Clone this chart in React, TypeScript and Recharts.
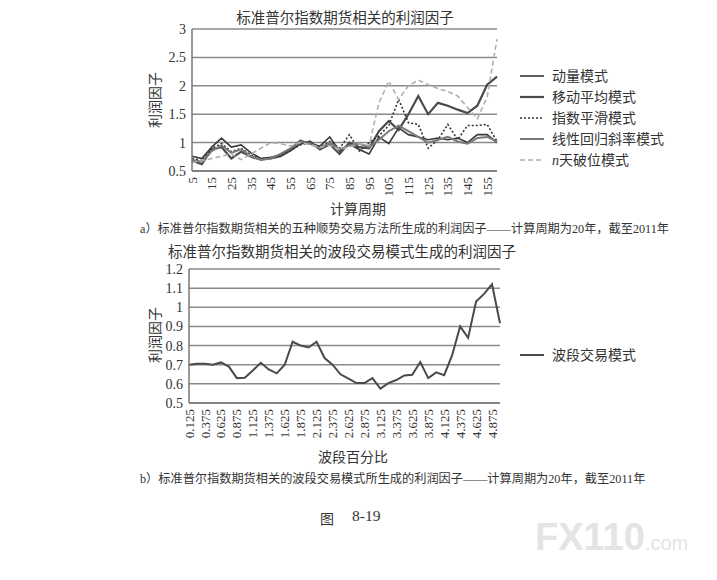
import React from 'react';
import { LineChart, Line, XAxis, YAxis, CartesianGrid } from 'recharts';

const FONT = "'Liberation Serif', 'Noto Sans CJK SC', serif";

// 上图：计算周期
const periods = [5, 10, 15, 20, 25, 30, 35, 40, 45, 50, 55, 60, 65, 70, 75, 80,
  85, 90, 95, 100, 105, 110, 115, 120, 125, 130, 135, 140, 145, 150, 155, 160];

const momentum = [0.76, 0.72, 0.92, 1.08, 0.92, 0.96, 0.82, 0.72, 0.74, 0.78, 0.88, 1.04, 0.98, 0.94, 1.1, 0.85,
  0.97, 0.88, 0.8, 1.1, 0.98, 1.26, 1.14, 1.1, 1.05, 1.08, 1.05, 1.08, 1.0, 1.14, 1.14, 1.0];
const movingAvg = [0.68, 0.62, 0.88, 0.92, 0.72, 0.84, 0.75, 0.7, 0.72, 0.76, 0.86, 0.98, 1.02, 0.88, 0.97, 0.8,
  1.0, 0.92, 0.9, 1.2, 1.38, 1.22, 1.5, 1.82, 1.5, 1.7, 1.65, 1.58, 1.52, 1.65, 2.02, 2.16];
const expSmooth = [0.72, 0.68, 0.9, 0.98, 0.84, 0.9, 0.78, 0.72, 0.73, 0.78, 0.86, 0.96, 1.0, 0.92, 1.02, 0.9,
  1.14, 0.85, 1.0, 1.12, 1.3, 1.76, 1.35, 1.32, 0.9, 1.05, 1.32, 1.05, 1.3, 1.3, 1.32, 1.02];
const linReg = [0.7, 0.66, 0.85, 0.95, 0.82, 0.88, 0.76, 0.7, 0.72, 0.8, 0.9, 1.02, 0.98, 0.9, 1.0, 0.88,
  0.95, 0.98, 0.92, 1.05, 1.2, 1.3, 1.2, 1.1, 1.0, 1.05, 1.1, 1.02, 0.98, 1.08, 1.1, 1.02];
const nDay = [0.65, 0.68, 0.72, 0.76, 0.8, 0.7, 0.8, 0.9, 1.0, 0.98, 0.94, 1.0, 0.96, 0.92, 0.95, 0.88,
  0.92, 0.98, 0.95, 1.7, 2.08, 1.76, 2.0, 2.1, 2.02, 1.95, 1.9, 1.82, 1.62, 1.42, 1.8, 2.82];

const topTicks = [0.5, 1, 1.5, 2, 2.5, 3];

// 下图：波段百分比
const swingPct = ['0.125', '0.25', '0.375', '0.5', '0.625', '0.75', '0.875', '1', '1.125', '1.25',
  '1.375', '1.5', '1.625', '1.75', '1.875', '2', '2.125', '2.25', '2.375', '2.5',
  '2.625', '2.75', '2.875', '3', '3.125', '3.25', '3.375', '3.5', '3.625', '3.75',
  '3.875', '4', '4.125', '4.25', '4.375', '4.5', '4.625', '4.75', '4.875', '5'];
const swing = [0.7, 0.705, 0.705, 0.7, 0.712, 0.69, 0.63, 0.632, 0.67, 0.71,
  0.675, 0.655, 0.7, 0.82, 0.8, 0.79, 0.82, 0.735, 0.7, 0.65,
  0.627, 0.604, 0.604, 0.63, 0.575, 0.604, 0.62, 0.644, 0.647, 0.714,
  0.63, 0.66, 0.645, 0.75, 0.9, 0.84, 1.03, 1.07, 1.12, 0.917];

const bottomTicks = [0.5, 0.6, 0.7, 0.8, 0.9, 1, 1.1, 1.2];

const topData = periods.map((p, i) => ({
  period: p,
  momentum: momentum[i],
  movingAvg: movingAvg[i],
  expSmooth: expSmooth[i],
  linReg: linReg[i],
  nDay: nDay[i],
}));

const bottomData = swingPct.map((p, i) => ({ pct: p, swing: swing[i] }));

const topSeries = [
  { key: 'momentum', name: '动量模式', color: '#3a3a3a', width: 1.6, dash: undefined },
  { key: 'movingAvg', name: '移动平均模式', color: '#4a4a4a', width: 2.2, dash: undefined },
  { key: 'expSmooth', name: '指数平滑模式', color: '#333', width: 1.6, dash: '2 2' },
  { key: 'linReg', name: '线性回归斜率模式', color: '#7a7a7a', width: 2, dash: undefined },
  { key: 'nDay', name: 'n天破位模式', color: '#b0b0b0', width: 1.6, dash: '5 3' },
];

const RotTick = ({ x, y, payload }: any) => (
  <g transform={`translate(${x},${y})`}>
    <text transform="rotate(-90)" textAnchor="end" x={-2} dy="0.35em"
      fontSize={13} fill="#333" fontFamily={FONT}>
      {payload.value}
    </text>
  </g>
);

const TopLegend = () => (
  <svg width={170} height={105}>
    {topSeries.map((s, i) => (
      <g key={s.key} transform={`translate(0, ${8 + i * 21})`}>
        <line x1={0} x2={24} y1={0} y2={0} stroke={s.color} strokeWidth={s.width}
          strokeDasharray={s.dash} />
        <text x={32} y={0} dy="0.35em" fontSize={14} fill="#333" fontFamily={FONT}>
          {s.key === 'nDay' ? (<><tspan fontStyle="italic">n</tspan>天破位模式</>) : s.name}
        </text>
      </g>
    ))}
  </svg>
);

const BottomLegend = () => (
  <svg width={140} height={20}>
    <line x1={0} x2={24} y1={10} y2={10} stroke="#4a4a4a" strokeWidth={2} />
    <text x={32} y={10} dy="0.35em" fontSize={14} fill="#333" fontFamily={FONT}>波段交易模式</text>
  </svg>
);

const txt = (s: React.CSSProperties): React.CSSProperties => ({
  position: 'absolute', fontFamily: FONT, color: '#333', whiteSpace: 'nowrap', ...s,
});

const vLabel = (cx: number, cy: number): React.CSSProperties => txt({
  left: cx - 40, top: cy - 9, width: 80, height: 18, lineHeight: '18px', textAlign: 'center',
  fontSize: 14, transform: 'rotate(-90deg)',
});

export default function App() {
  return (
    <div style={{ position: 'absolute', left: 0, top: 0, width: 717, height: 580, background: '#fff', overflow: 'hidden' }}>
      <div style={txt({ left: 0, width: 690, top: 6, textAlign: 'center', fontSize: 14.5 })}>标准普尔指数期货相关的利润因子</div>
      <div style={vLabel(156, 100)}>利润因子</div>

      <div style={{ position: 'absolute', left: 0, top: 0 }}>
        <LineChart width={717} height={215} data={topData}
          margin={{ top: 29, right: 220, left: 160, bottom: 4 }}>
          <CartesianGrid vertical={false} stroke="#8a8a8a" strokeWidth={1.5} />
          <XAxis dataKey="period" interval={1} tick={<RotTick />} tickSize={0} tickMargin={4}
            height={40} axisLine={{ stroke: '#777', strokeWidth: 1.5 }} />
          <YAxis domain={[0.5, 3]} ticks={topTicks} interval={0} width={32} tickSize={0} tickMargin={6}
            tick={{ fontSize: 14, fill: '#333', fontFamily: FONT }}
            axisLine={{ stroke: '#777', strokeWidth: 1.5 }} />
          {topSeries.map((s) => (
            <Line key={s.key} dataKey={s.key} name={s.name} stroke={s.color} strokeWidth={s.width}
              strokeDasharray={s.dash} dot={false} isAnimationActive={false} />
          ))}
        </LineChart>
      </div>
      <div style={{ position: 'absolute', left: 520, top: 68 }}><TopLegend /></div>

      <div style={txt({ left: 330, top: 198, fontSize: 14 })}>计算周期</div>
      <div style={txt({ left: 140, top: 219, fontSize: 12.2 })}>a）标准普尔指数期货相关的五种顺势交易方法所生成的利润因子——计算周期为20年，截至2011年</div>

      <div style={txt({ left: 0, width: 684, top: 240, textAlign: 'center', fontSize: 14.5 })}>标准普尔指数期货相关的波段交易模式生成的利润因子</div>
      <div style={vLabel(156, 335)}>利润因子</div>

      <div style={{ position: 'absolute', left: 0, top: 240 }}>
        <LineChart width={717} height={220} data={bottomData}
          margin={{ top: 29, right: 217, left: 157, bottom: 9 }}>
          <CartesianGrid vertical={false} stroke="#8a8a8a" strokeWidth={1.5} />
          <XAxis dataKey="pct" interval={1} tick={<RotTick />} tickSize={0} tickMargin={4}
            height={48} axisLine={{ stroke: '#777', strokeWidth: 1.5 }} />
          <YAxis domain={[0.5, 1.2]} ticks={bottomTicks} interval={0} width={32} tickSize={0} tickMargin={6}
            tick={{ fontSize: 14, fill: '#333', fontFamily: FONT }}
            axisLine={{ stroke: '#777', strokeWidth: 1.5 }} />
          <Line dataKey="swing" name="波段交易模式" stroke="#4a4a4a" strokeWidth={2}
            dot={false} isAnimationActive={false} />
        </LineChart>
      </div>
      <div style={{ position: 'absolute', left: 520, top: 345 }}><BottomLegend /></div>

      <div style={txt({ left: 318, top: 446, fontSize: 14 })}>波段百分比</div>
      <div style={txt({ left: 140, top: 469, fontSize: 12.2 })}>b）标准普尔指数期货相关的波段交易模式所生成的利润因子——计算周期为20年，截至2011年</div>
      <div style={txt({ left: 320, top: 508, fontSize: 14 })}>图</div>
      <div style={txt({ left: 352, top: 507, fontSize: 15.5 })}>8-19</div>
      <div style={txt({ left: 535, top: 516, fontSize: 38, fontWeight: 'bold', color: '#e4e4e4', fontFamily: "'Liberation Sans', sans-serif" })}>
        FX110<span style={{ fontSize: 20, fontWeight: 'normal' }}>.com</span>
      </div>
    </div>
  );
}
